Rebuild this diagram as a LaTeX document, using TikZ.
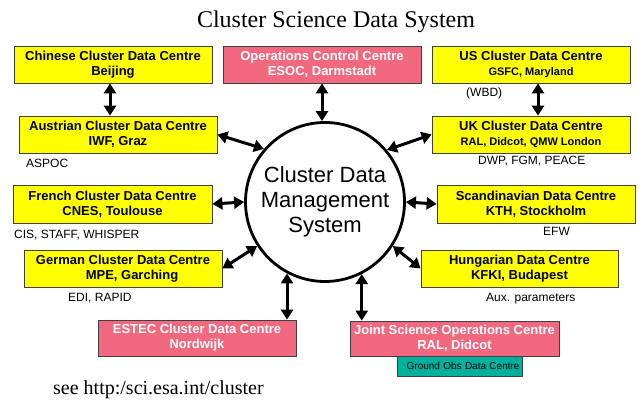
\documentclass[tikz,border=0pt]{standalone}
\usepackage{fontspec}
\setmainfont{Liberation Sans}
\newfontfamily\serifTNR{Liberation Serif}
\usetikzlibrary{arrows.meta}
\definecolor{boxyellow}{HTML}{FFFF00}
\definecolor{boxpink}{HTML}{F2687E}
\definecolor{boxteal}{HTML}{00B09E}
\definecolor{boxline}{HTML}{404040}
\begin{document}
\begin{tikzpicture}[x=1pt,y=-1pt,
  centrebox/.style={draw=boxline, line width=0.8pt, minimum width=198pt, minimum height=37pt,
    inner sep=0pt, align=center, font=\bfseries\fontsize{13}{15}\selectfont},
  ybox/.style={centrebox, fill=boxyellow},
  pbox/.style={centrebox, fill=boxpink, text=white},
  note/.style={anchor=base west, inner sep=0pt, font=\fontsize{12}{14}\selectfont},
  link/.style={line width=3pt, {Triangle[length=10pt,width=12pt]}-{Triangle[length=10pt,width=12pt]}}
]
\useasboundingbox (0,0) rectangle (638,403);
\fill[white] (0,0) rectangle (638,403);

\node[font=\serifTNR\fontsize{24}{28}\selectfont, anchor=base] (title) at (336,28) {Cluster Science Data System};

\node[ybox] (chin) at (113,64.5) {Chinese Cluster Data Centre\\Beijing};
\node[pbox] (ops) at (322,64.5) {Operations Control Centre\\ESOC, Darmstadt};
\node[ybox] (us) at (531,64.5) {US Cluster Data Centre\\{\fontsize{11}{13}\selectfont GSFC, Maryland}};
\node[ybox] (aus) at (118,134.5) {Austrian Cluster Data Centre\\IWF, Graz};
\node[ybox] (uk) at (531,134.5) {UK Cluster Data Centre\\{\fontsize{11}{13}\selectfont RAL, Didcot, QMW London}};
\node[ybox, minimum width=199pt, minimum height=38pt] (fr) at (112.5,204) {French Cluster Data Centre\\CNES, Toulouse};
\node[ybox, minimum height=38pt] (sc) at (536,204) {Scandinavian Data Centre\\KTH, Stockholm};
\node[ybox] (ger) at (123,268.5) {German Cluster Data Centre\\\hspace*{18pt}MPE, Garching};
\node[ybox, minimum width=197pt] (hun) at (519.5,268.5) {Hungarian Data Centre\\KFKI, Budapest};
\node[pbox, minimum height=36pt] (estec) at (197,338) {ESTEC Cluster Data Centre\\Nordwijk};
\node[draw=boxline, line width=0.8pt, fill=boxteal, minimum height=20pt, text width=119pt,
  inner xsep=3pt, inner ysep=0pt, align=right, font=\fontsize{10}{12}\selectfont] (gobs) at (460,366) {Ground Obs Data Centre};
\node[pbox, minimum width=209pt, minimum height=35pt] (jsoc) at (454.5,338.5) {Joint Science Operations Centre\\RAL, Didcot};

\node[circle, draw, line width=2.8pt, minimum size=159pt, inner sep=0pt, align=center,
  font=\fontsize{22}{25}\selectfont] (cdms) at (325,202) {Cluster Data\\Management\\System};

\node[note] (aspoc) at (26,168) {ASPOC};
\node[note] (wbd) at (466,97) {(WBD)};
\node[note] (dwp) at (478,165) {DWP, FGM, PEACE};
\node[note] (cis) at (14,239) {CIS, STAFF, WHISPER};
\node[note] (efw) at (543,236) {EFW};
\node[note] (edi) at (68,302) {EDI, RAPID};
\node[note] (aux) at (486,302) {Aux. parameters};

\node[font=\serifTNR\fontsize{20}{24}\selectfont, anchor=base west, inner sep=0pt] (see) at (53,395) {see http:/sci.esa.int/cluster};

\draw[link] ([xshift=-3pt]chin.south) -- ([xshift=-3pt]chin.south |- aus.north);
\draw[link] (ops.south) -- (ops.south |- cdms.north);
\draw[link] ([xshift=7pt]us.south) -- ([xshift=7pt]uk.north);
\draw[link] (aus.east) -- (cdms.139);
\draw[link] (uk.west) -- (cdms.40);
\draw[link] (fr.east) -- (cdms.west);
\draw[link] (cdms.east) -- (sc.west);
\draw[link] (ger.east) -- (cdms.213);
\draw[link] (cdms.327) -- (hun.west);
\draw[link] (cdms.242) -- (cdms.242 |- estec.north);
\draw[link] (cdms.297) -- (cdms.297 |- jsoc.north);
\end{tikzpicture}
\end{document}
